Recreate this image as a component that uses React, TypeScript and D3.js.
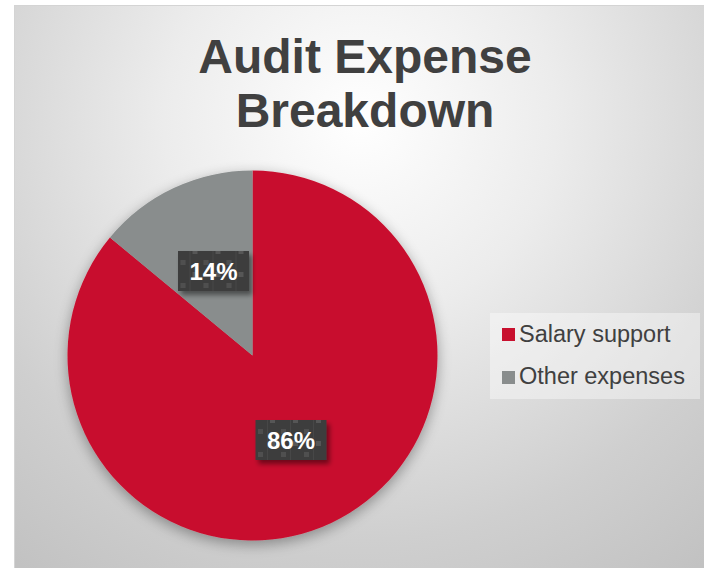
import React from "react";
import * as d3 from "d3";

const categories = ["Salary support", "Other expenses"];
const values = [86, 14];
const labels = ["86%", "14%"];
const colors = ["#C8102E", "#898D8D"];
const titleLines = ["Audit Expense", "Breakdown"];

const W = 704;
const H = 568;

export default function App() {
  const cx = 252.5;
  const cy = 355.5;
  const r = 185;
  const pie = d3.pie<number>().sort(null).startAngle(0).endAngle(2 * Math.PI)(values);
  const arc = d3.arc<d3.PieArcDatum<number>>().innerRadius(0).outerRadius(r);
  // label positions: Excel places labels inside the slices
  const labelArc = d3.arc<d3.PieArcDatum<number>>().innerRadius(0).outerRadius(r);
  const labelPos = pie.map((d, i) => {
    const c = labelArc.centroid(d);
    // best-fit style offsets
    const k = i === 0 ? 0.6 : 1.25;
    return [c[0] * k, c[1] * k];
  });
  const boxW = 71;
  const boxH = 40;

  return (
    <div style={{ position: "absolute", left: 0, top: 0 }}>
      <svg width={W} height={H} style={{ display: "block" }} fontFamily="'Liberation Sans', Arial, sans-serif">
        <defs>
          <radialGradient id="bg" cx="360" cy="120" r="560" gradientUnits="userSpaceOnUse">
            <stop offset="0" stopColor="#ffffff" />
            <stop offset="0.35" stopColor="#ececec" />
            <stop offset="0.75" stopColor="#cfcfcf" />
            <stop offset="1" stopColor="#c2c2c2" />
          </radialGradient>
          <filter id="pieShadow" x="-20%" y="-20%" width="140%" height="140%">
            <feGaussianBlur in="SourceAlpha" stdDeviation="7" />
            <feOffset dx="0" dy="4" result="b" />
            <feComponentTransfer>
              <feFuncA type="linear" slope="0.35" />
            </feComponentTransfer>
            <feMerge>
              <feMergeNode />
              <feMergeNode in="SourceGraphic" />
            </feMerge>
          </filter>
          <filter id="boxShadow" x="-30%" y="-30%" width="160%" height="160%">
            <feGaussianBlur in="SourceAlpha" stdDeviation="2.5" />
            <feOffset dx="3" dy="4" result="b" />
            <feComponentTransfer>
              <feFuncA type="linear" slope="0.45" />
            </feComponentTransfer>
            <feMerge>
              <feMergeNode />
              <feMergeNode in="SourceGraphic" />
            </feMerge>
          </filter>
          <pattern id="dots" width="23" height="23" patternUnits="userSpaceOnUse" x="0" y="0">
            <rect width="23" height="23" fill="#3e3e3e" />
            <rect x="2" y="1" width="5" height="5" fill="#575757" />
            <rect x="13" y="12" width="5" height="5" fill="#505050" />
            <rect x="22" y="0" width="1" height="23" fill="#474747" />
          </pattern>
        </defs>
        <rect x={14} y={5} width={W - 14} height={H - 5} fill="url(#bg)" />
        <rect x={14.5} y={5.5} width={W - 14} height={H - 5} fill="none" stroke="#d4d4d4" strokeWidth={1} />

        {titleLines.map((t, i) => (
          <text
            key={t}
            x={365}
            y={73 + i * 54}
            textAnchor="middle"
            fontSize={48}
            fontWeight="bold"
            fill="#404040"
          >
            {t}
          </text>
        ))}

        <g transform={`translate(${cx},${cy})`} filter="url(#pieShadow)">
          {pie.map((d, i) => (
            <path key={categories[i]} d={arc(d) || ""} fill={colors[i]} />
          ))}
        </g>

        {pie.map((d, i) => {
          const [lx, ly] = i === 0 ? [291 - cx, 440 - cy] : [213.5 - cx, 271 - cy];
          return (
            <g key={"lbl" + i} transform={`translate(${cx + lx},${cy + ly})`}>
              <rect
                x={-boxW / 2}
                y={-boxH / 2}
                width={boxW}
                height={boxH}
                fill="url(#dots)"
                filter="url(#boxShadow)"
              />
              <text x={0} y={8.5} textAnchor="middle" fontSize={24} fontWeight="bold" fill="#ffffff">
                {labels[i]}
              </text>
            </g>
          );
        })}

        <rect x={490} y={313} width={210} height={86} fill="#ffffff" fillOpacity={0.4} />
        {categories.map((c, i) => (
          <g key={"leg" + c}>
            <rect x={502} y={328 + i * 43} width={13} height={13} fill={colors[i]} />
            <text x={519} y={342 + i * 42} fontSize={23.5} fill="#404040">
              {c}
            </text>
          </g>
        ))}
      </svg>
    </div>
  );
}
